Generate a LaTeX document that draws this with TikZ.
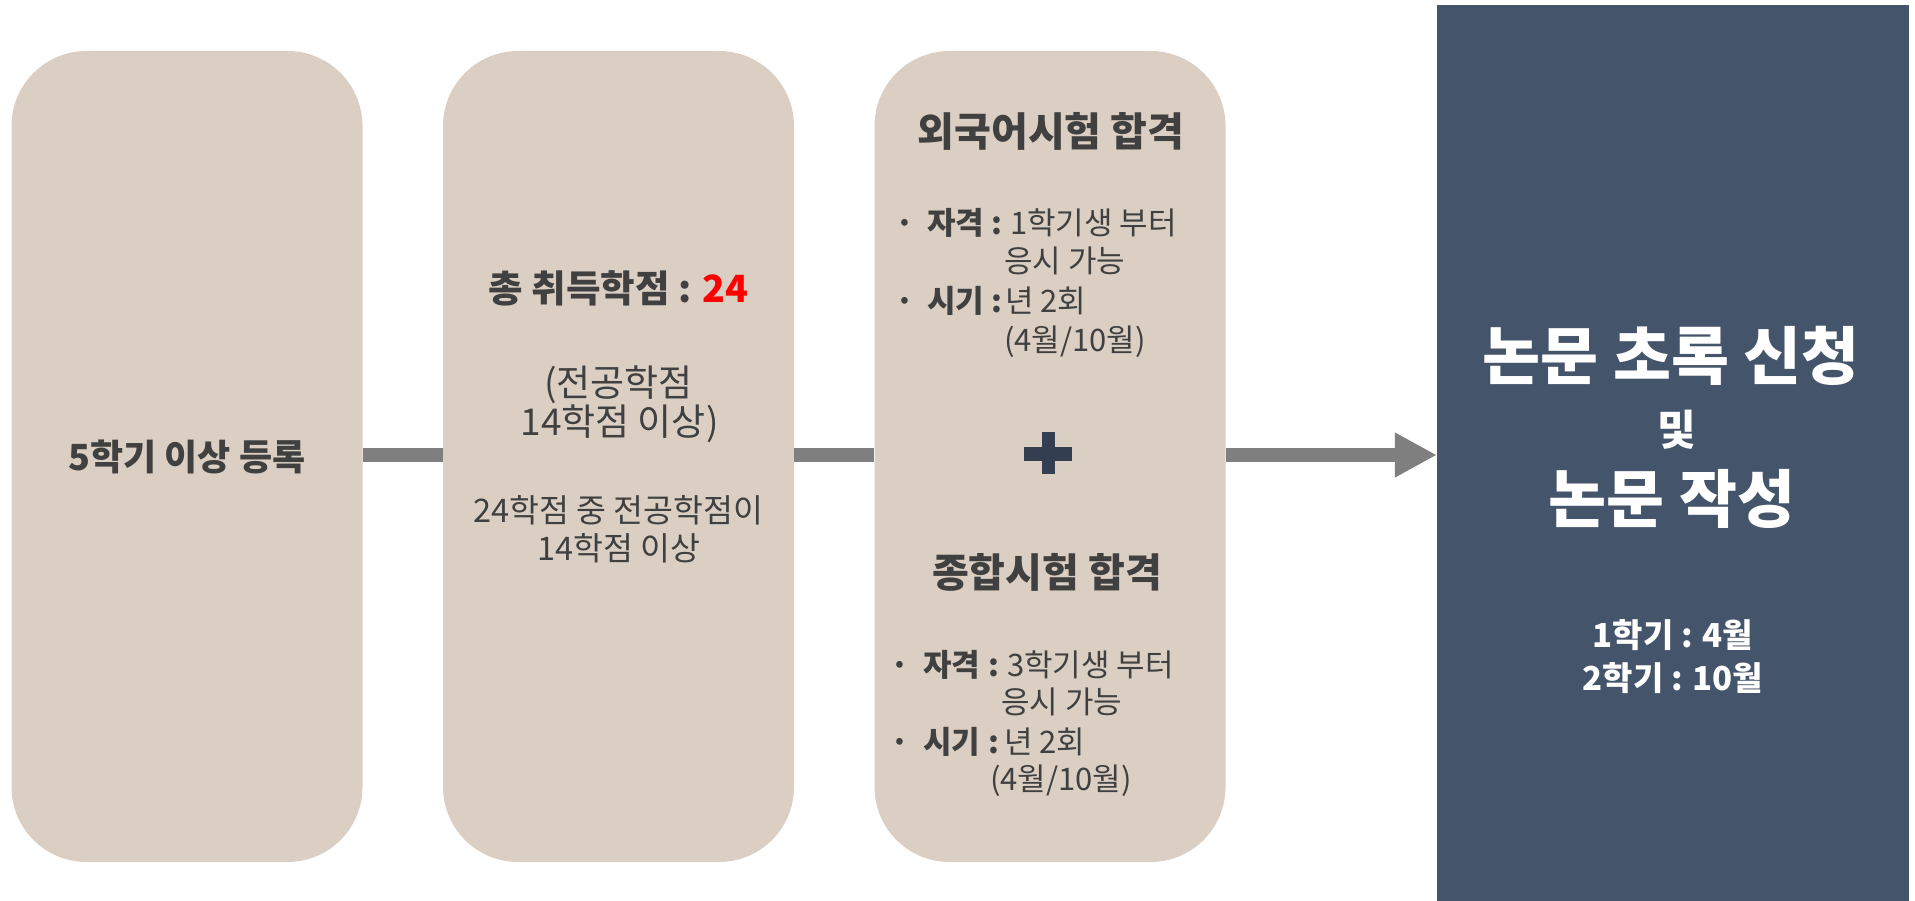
\documentclass[tikz,border=0pt]{standalone}
\usepackage{fontspec}
\setmainfont{Noto Sans CJK KR}
\usetikzlibrary{arrows.meta}
\definecolor{beige}{HTML}{DBCFC3}
\definecolor{navy}{HTML}{44546A}
\definecolor{plusnavy}{HTML}{333F50}
\definecolor{txtgray}{HTML}{404040}
\definecolor{conn}{HTML}{7F7F7F}
\definecolor{hotred}{HTML}{FF0000}
\newcommand\fsz[1]{\fontsize{#1}{#1}\selectfont}
\begin{document}
\begin{tikzpicture}[x=1pt,y=-1pt,
  stepbox/.style={fill=beige, draw=none, rounded corners=75pt, minimum width=351pt, minimum height=811pt, inner sep=0pt},
  darkbox/.style={fill=navy, draw=none, minimum width=472pt, minimum height=896pt, inner sep=0pt},
  lbl/.style={inner sep=0pt, anchor=base, text=txtgray},
  lblw/.style={inner sep=0pt, anchor=base west, text=txtgray},
  link/.style={draw=conn, line width=13.5pt},
  small/.style={font=\fsz{31}},
  smallb/.style={font=\fsz{31}\bfseries},
  wt/.style={inner sep=0pt, anchor=base, text=white},
]
\useasboundingbox (0,0) rectangle (1915,901);
% boxes
\node[stepbox] (b1) at (187,456.5) {};
\node[stepbox] (b2) at (618.5,456.5) {};
\node[stepbox] (b3) at (1050,456.5) {};
\node[darkbox] (d) at (1673,453) {};
% connectors
\draw[link] ([yshift=1.5pt]b1.east) -- ([yshift=1.5pt]b2.west);
\draw[link] ([yshift=1.5pt]b2.east) -- ([yshift=1.5pt]b3.west);
\draw[link, -{Triangle[length=42pt,width=42pt]}] ([yshift=1.5pt]b3.east) -- ([yshift=-2pt]d.west);
% plus sign
\fill[plusnavy] (1024,447) rectangle (1072,460.5);
\fill[plusnavy] (1041.5,432) rectangle (1055,474);
% box 1
\node[lbl, font=\fsz{36}\bfseries] (t1) at (187,470) {5학기 이상 등록};
% box 2
\node[lbl, font=\fsz{37.5}\bfseries] (t2) at (618.5,303) {총 취득학점 : \textcolor{hotred}{24}};
\node[lbl, font=\fsz{37}] (t3) at (618.5,396) {(전공학점};
\node[lbl, font=\fsz{37}] (t4) at (619.5,435) {14학점 이상)};
\node[lbl, font=\fsz{32.5}] (t5) at (618.5,522) {24학점 중 전공학점이};
\node[lbl, font=\fsz{32.5}] (t6) at (618.5,560) {14학점 이상};
% box 3 upper
\node[lbl, font=\fsz{40}\bfseries] (t7) at (1051,147) {외국어시험 합격};
\node[lbl, smallb] (a1) at (905,235) {·};
\node[lblw, smallb] (a2) at (927,235) {자격};
\node[lbl, smallb] (a3) at (997,235) {:};
\node[lblw, small] (a4) at (1010,235) {1학기생 부터};
\node[lblw, small] (a5) at (1004,273) {응시 가능};
\node[lbl, smallb] (a6) at (905,313) {·};
\node[lblw, smallb] (a7) at (927,313) {시기};
\node[lbl, smallb] (a8) at (997,313) {:};
\node[lblw, small] (a9) at (1005,313) {년 2회};
\node[lblw, small] (a10) at (1004,352) {(4월/10월)};
% box 3 lower
\node[lbl, font=\fsz{40}\bfseries] (t8) at (1047,587) {종합시험 합격};
\node[lbl, smallb] (c1) at (900,676) {·};
\node[lblw, smallb] (c2) at (923,676) {자격};
\node[lbl, smallb] (c3) at (994,676) {:};
\node[lblw, small] (c4) at (1007,676) {3학기생 부터};
\node[lblw, small] (c5) at (1001,713) {응시 가능};
\node[lbl, smallb] (c6) at (900,753) {·};
\node[lblw, smallb] (c7) at (923,753) {시기};
\node[lbl, smallb] (c8) at (994,753) {:};
\node[lblw, small] (c9) at (1004,753) {년 2회};
\node[lblw, small] (c10) at (990,790) {(4월/10월)};
% dark box
\node[wt, font=\fsz{63}\bfseries] (d1) at (1671,380) {논문 초록 신청};
\node[wt, font=\fsz{42}\bfseries] (d2) at (1677,445) {및};
\node[wt, font=\fsz{63}\bfseries] (d3) at (1672,522) {논문 작성};
\node[wt, font=\fsz{33}\bfseries] (d4) at (1673,647) {1학기 : 4월};
\node[wt, font=\fsz{33}\bfseries] (d5) at (1673,690) {2학기 : 10월};
\end{tikzpicture}
\end{document}
